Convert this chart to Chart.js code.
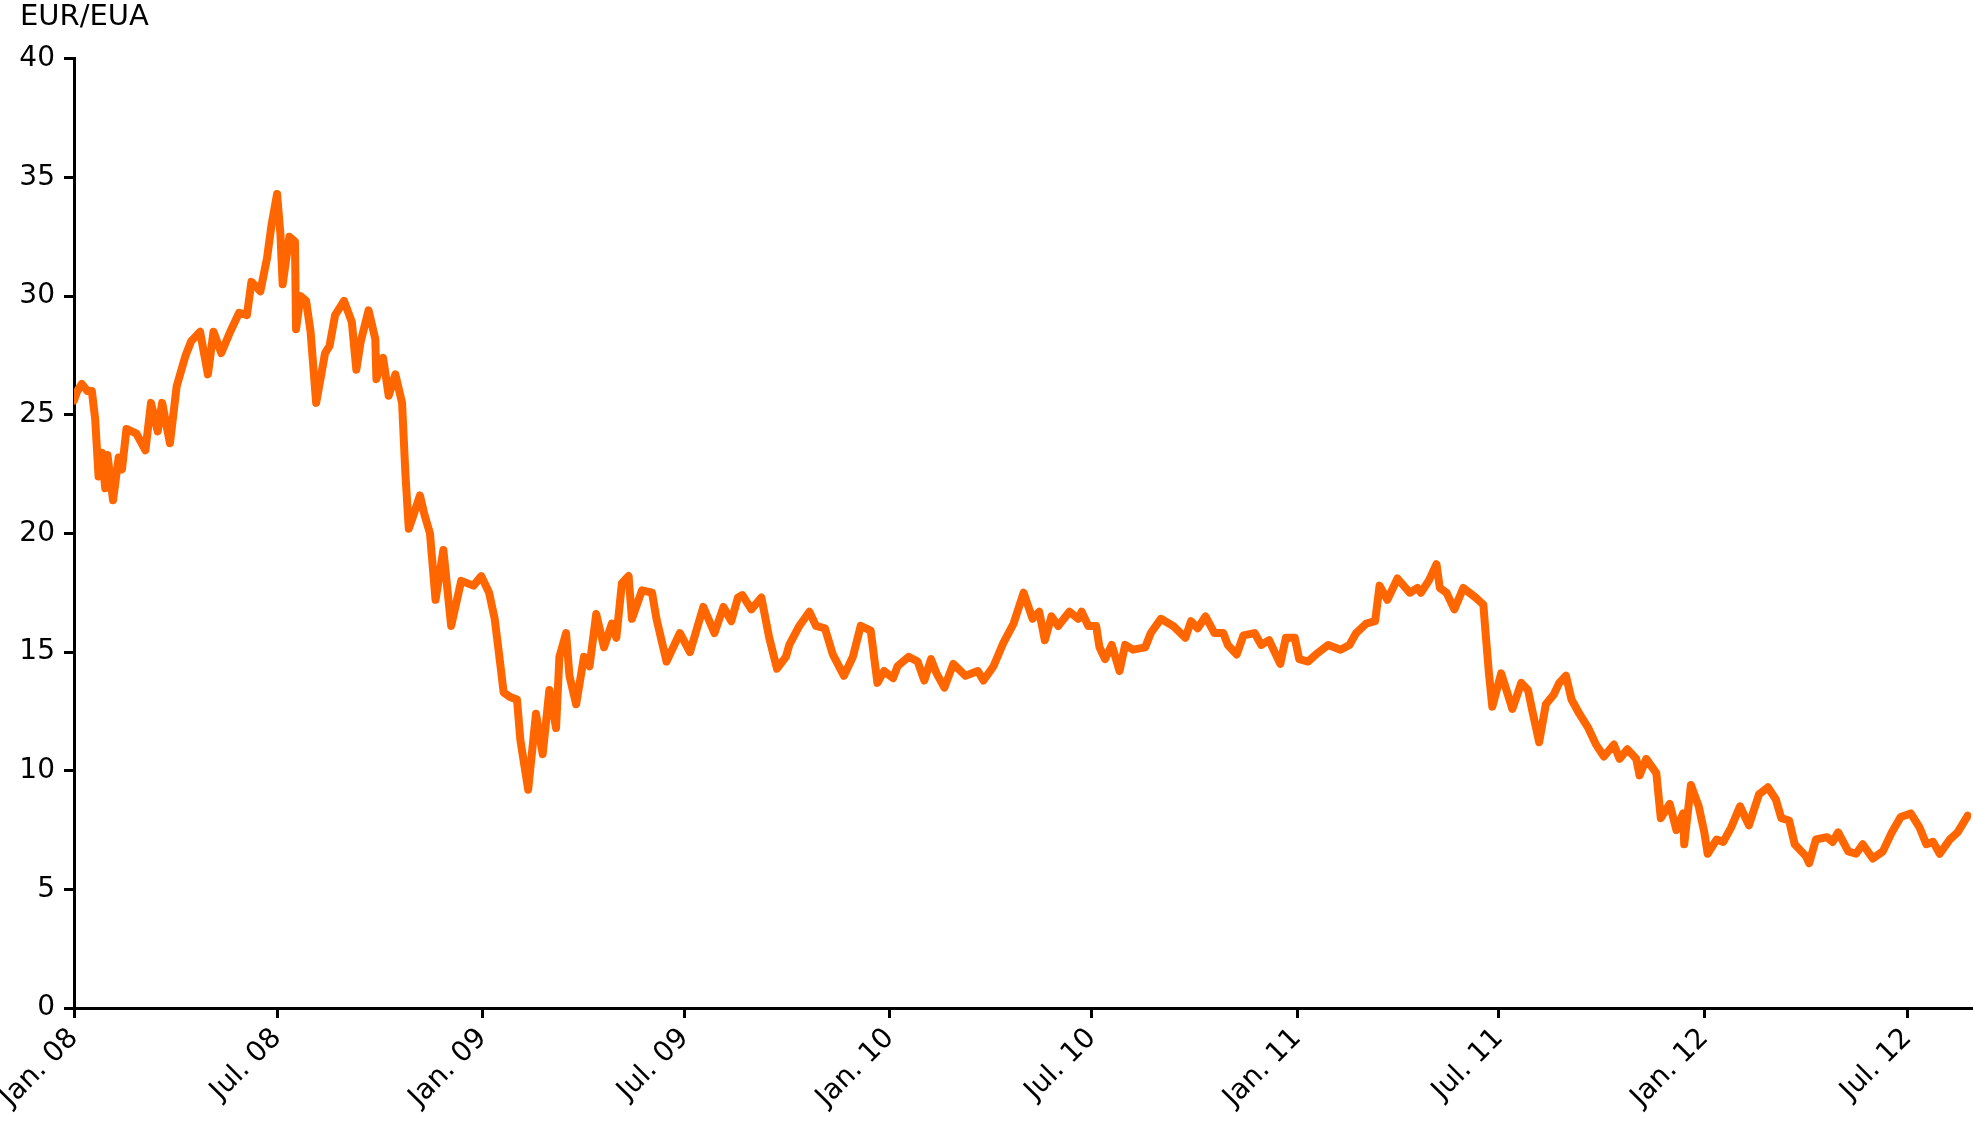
<!DOCTYPE html>
<html>
<head>
<meta charset="utf-8">
<title>EUA price</title>
<script src="https://cdn.jsdelivr.net/npm/chart.js@4.4.1/dist/chart.umd.min.js"></script>
<style>
  html, body { margin: 0; padding: 0; background: #fff; }
  #wrap { width: 1973px; height: 1127px; position: relative; }
</style>
</head>
<body>
<div id="wrap"><canvas id="euaChart"></canvas></div>
<script>
// days counted from 1 Jan 2008, price in EUR per allowance
const days = [
  0, 3, 7, 12, 16, 19, 22, 25, 28, 30, 35, 40, 43, 47, 56, 64, 69, 75, 79, 86,
  92, 100, 105, 113, 120, 125, 132, 140, 148, 155, 159, 167, 173, 177, 182, 185, 187, 193, 198, 199,
  203, 208, 212, 217, 222, 225, 229, 234, 242, 249, 253, 257, 264, 270, 271, 277, 282, 288, 294, 297,
  300, 303, 310, 314, 319, 324, 331, 338, 347, 358, 365, 372, 377, 382, 385, 391, 397, 400, 407, 414,
  420, 426, 432, 435, 441, 444, 450, 457, 462, 468, 475, 482, 486, 491, 497, 500, 509, 518, 522, 531,
  543, 552, 564, 574, 582, 589, 595, 599, 607, 616, 623, 630, 638, 641, 650, 659, 665, 673, 680, 690,
  698, 705, 714, 720, 726, 734, 738, 748, 756, 762, 768, 773, 780, 788, 799, 810, 815, 824, 833, 842,
  851, 859, 865, 870, 876, 882, 892, 900, 903, 909, 916, 919, 924, 930, 937, 942, 949, 960, 965, 974,
  985, 996, 1001, 1007, 1014, 1022, 1030, 1034, 1042, 1048, 1058, 1064, 1071, 1081, 1086, 1094, 1098, 1106, 1113, 1124,
  1135, 1143, 1149, 1158, 1166, 1170, 1177, 1186, 1197, 1204, 1207, 1214, 1221, 1224, 1230, 1237, 1245, 1256, 1263, 1265,
  1268, 1271, 1279, 1289, 1297, 1303, 1307, 1313, 1319, 1326, 1331, 1337, 1342, 1349, 1357, 1364, 1371, 1380, 1385, 1392,
  1400, 1403, 1409, 1418, 1422, 1430, 1436, 1442, 1443, 1449, 1456, 1461, 1464, 1472, 1478, 1485, 1493, 1501, 1510, 1518,
  1525, 1530, 1537, 1542, 1552, 1555, 1561, 1571, 1576, 1581, 1590, 1597, 1603, 1612, 1621, 1629, 1637, 1646, 1654, 1660,
  1666, 1672, 1681, 1688, 1697
];
const prices = [
  25.6, 26.0, 26.3, 26.0, 26.0, 24.8, 22.4, 23.4, 21.9, 23.3, 21.4, 23.2, 22.7, 24.4, 24.2, 23.5, 25.5, 24.3, 25.5, 23.8,
  26.2, 27.5, 28.1, 28.5, 26.7, 28.5, 27.6, 28.5, 29.3, 29.2, 30.6, 30.2, 31.6, 33.0, 34.3, 32.6, 30.5, 32.5, 32.3, 28.6,
  30.0, 29.8, 28.5, 25.5, 26.8, 27.6, 27.9, 29.2, 29.8, 28.9, 26.9, 28.1, 29.4, 28.2, 26.5, 27.4, 25.8, 26.7, 25.5, 22.5,
  20.2, 20.6, 21.6, 20.8, 20.0, 17.2, 19.3, 16.1, 18.0, 17.8, 18.2, 17.5, 16.4, 14.5, 13.3, 13.1, 13.0, 11.3, 9.2, 12.4,
  10.7, 13.4, 11.8, 14.8, 15.8, 14.0, 12.8, 14.8, 14.4, 16.6, 15.2, 16.2, 15.6, 17.9, 18.2, 16.4, 17.6, 17.5, 16.4, 14.6,
  15.8, 15.0, 16.9, 15.8, 16.9, 16.3, 17.3, 17.4, 16.8, 17.3, 15.6, 14.3, 14.8, 15.3, 16.1, 16.7, 16.1, 16.0, 14.9, 14.0,
  14.8, 16.1, 15.9, 13.7, 14.2, 13.9, 14.4, 14.8, 14.6, 13.8, 14.7, 14.1, 13.5, 14.5, 14.0, 14.2, 13.8, 14.4, 15.4, 16.2,
  17.5, 16.4, 16.7, 15.5, 16.5, 16.1, 16.7, 16.4, 16.7, 16.1, 16.1, 15.2, 14.7, 15.3, 14.2, 15.3, 15.1, 15.2, 15.8, 16.4,
  16.1, 15.6, 16.3, 16.0, 16.5, 15.8, 15.8, 15.3, 14.9, 15.7, 15.8, 15.3, 15.5, 14.5, 15.6, 15.6, 14.7, 14.6, 14.9, 15.3,
  15.1, 15.3, 15.8, 16.2, 16.3, 17.8, 17.2, 18.1, 17.5, 17.7, 17.5, 18.0, 18.7, 17.7, 17.5, 16.8, 17.7, 17.3, 17.0, 15.8,
  14.1, 12.7, 14.1, 12.6, 13.7, 13.4, 12.5, 11.2, 12.8, 13.2, 13.7, 14.0, 13.0, 12.4, 11.8, 11.1, 10.6, 11.1, 10.5, 10.9,
  10.5, 9.8, 10.5, 9.9, 8.0, 8.6, 7.5, 8.2, 6.9, 9.4, 8.5, 7.4, 6.5, 7.1, 7.0, 7.6, 8.5, 7.7, 9.0, 9.3,
  8.8, 8.0, 7.9, 6.9, 6.4, 6.1, 7.1, 7.2, 7.0, 7.4, 6.6, 6.5, 6.9, 6.3, 6.6, 7.4, 8.05, 8.2, 7.6, 6.9,
  7.0, 6.5, 7.1, 7.4, 8.1
];

// x-axis ticks: 1 Jan / 1 Jul of each year
const tickDays = [0, 182, 366, 547, 731, 912, 1096, 1277, 1461, 1643];
const tickLabels = ['Jan. 08', 'Jul. 08', 'Jan. 09', 'Jul. 09', 'Jan. 10', 'Jul. 10', 'Jan. 11', 'Jul. 11', 'Jan. 12', 'Jul. 12'];
const yTicks = [0, 5, 10, 15, 20, 25, 30, 35, 40];

const points = days.map((d, i) => ({ x: d, y: prices[i] }));

const FONT = { family: '"DejaVu Sans", Verdana, sans-serif', size: 28 };

new Chart(document.getElementById('euaChart'), {
    type: 'line',
    data: {
        datasets: [{
            data: points,
            borderColor: '#FF6600',
            borderWidth: 8,
            pointRadius: 0,
            tension: 0,
            borderJoinStyle: 'round',
            borderCapStyle: 'round'
        }]
    },
    options: {
        responsive: true,
        maintainAspectRatio: false,
        animation: false,
        layout: { padding: { left: 20, right: 2, top: 0, bottom: 0 } },
        plugins: {
            legend: { display: false },
            tooltip: { enabled: false },
            title: {
                display: true,
                text: 'EUR/EUA',
                align: 'start',
                color: '#000',
                font: { family: FONT.family, size: 29, weight: 'normal' },
                padding: { top: 0, bottom: 24 }
            }
        },
        scales: {
            x: {
                type: 'linear',
                min: 0,
                max: 1700,
                afterBuildTicks: axis => { axis.ticks = tickDays.map(v => ({ value: v })); },
                afterFit: axis => { axis.height = 119; },
                ticks: {
                    autoSkip: false,
                    maxRotation: 45,
                    minRotation: 45,
                    padding: 4,
                    color: '#000',
                    font: FONT,
                    callback: v => tickLabels[tickDays.indexOf(v)]
                },
                grid: { drawOnChartArea: false, drawTicks: true, tickLength: 10, color: '#000', lineWidth: 3 },
                border: { display: true, color: '#000', width: 3 }
            },
            y: {
                min: 0,
                max: 40,
                afterBuildTicks: axis => { axis.ticks = yTicks.map(v => ({ value: v })); },
                afterFit: axis => { axis.width = 54; },
                ticks: { padding: 9, color: '#000', font: FONT },
                grid: { drawOnChartArea: false, drawTicks: true, tickLength: 10, color: '#000', lineWidth: 3 },
                border: { display: true, color: '#000', width: 3 }
            }
        }
    }
});
</script>
</body>
</html>
